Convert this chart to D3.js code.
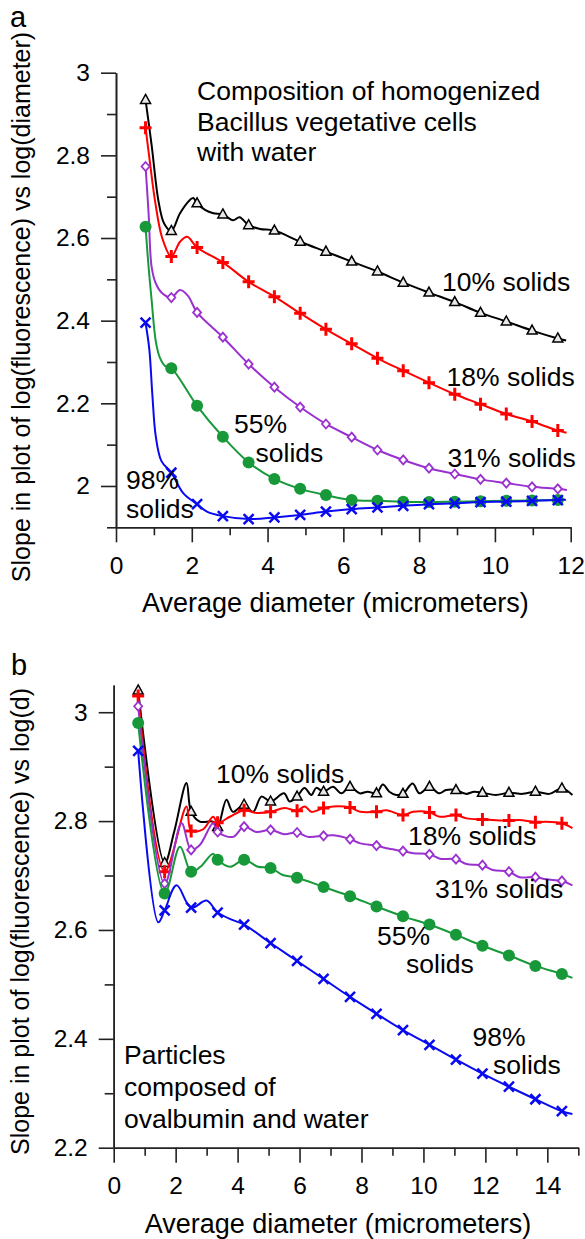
<!DOCTYPE html>
<html lang="en">
<head>
<meta charset="UTF-8" />
<title>Slope vs average diameter</title>
<style>
  body { margin: 0; background: #fff; }
  svg { display: block; font-family: "Liberation Sans", Arial, sans-serif; }
  .axis path, .axis line { stroke: #222; stroke-width: 1.6; }
  .axis text { font-size: 24.5px; fill: #000; }
  .note { font-size: 26.5px; fill: #000; }
</style>
</head>
<body>
<script src="https://d3js.org/d3.v7.min.js"></script>
<script>

// ---- panel a: Bacillus vegetative cells ----
var aX = [0.78, 1.46, 2.14, 2.82, 3.5, 4.18, 4.86, 5.54, 6.22, 6.9, 7.58, 8.26, 8.94, 9.62, 10.3, 10.98, 11.66];
var aY10 = [2.934, 2.617, 2.684, 2.657, 2.631, 2.618, 2.591, 2.567, 2.543, 2.519, 2.492, 2.468, 2.445, 2.419, 2.398, 2.376, 2.357];
var aY18 = [2.867, 2.555, 2.577, 2.541, 2.494, 2.458, 2.418, 2.379, 2.344, 2.309, 2.279, 2.25, 2.222, 2.198, 2.174, 2.156, 2.134];
var aY31 = [2.773, 2.456, 2.42, 2.36, 2.295, 2.239, 2.191, 2.15, 2.118, 2.087, 2.063, 2.043, 2.029, 2.016, 2.007, 1.998, 1.993];
var aY55 = [2.627, 2.285, 2.194, 2.119, 2.057, 2.017, 1.993, 1.978, 1.966, 1.964, 1.962, 1.961, 1.962, 1.963, 1.964, 1.965, 1.966];
var aY98 = [2.395, 2.032, 1.956, 1.927, 1.920, 1.924, 1.930, 1.938, 1.944, 1.948, 1.952, 1.956, 1.958, 1.961, 1.962, 1.964, 1.966];
// curve points between markers
var aLine10 = [[0.94, 2.825], [1.12, 2.69], [1.27, 2.635], [1.69, 2.66], [1.95, 2.692], [2.04, 2.697], [2.35, 2.668], [2.57, 2.66], [3.09, 2.643], [3.26, 2.65], [3.8, 2.622], [11.88, 2.352]];
var aLine18 = [[0.9, 2.78], [1.03, 2.69], [1.22, 2.6], [1.69, 2.591], [1.88, 2.603], [11.89, 2.129]];
var aLine31 = [[0.86, 2.66], [0.94, 2.53], [1.05, 2.49], [1.2, 2.468], [1.69, 2.474], [1.9, 2.46], [11.9, 1.99]];
var aLine55 = [[0.86, 2.53], [0.94, 2.45], [1.05, 2.35], [1.16, 2.31], [1.3, 2.29], [11.88, 1.966]];
var aLine98 = [[0.88, 2.33], [0.96, 2.22], [1.05, 2.12], [1.2, 2.06], [1.78, 1.982], [2.4, 1.938], [11.86, 1.967]];

// ---- panel b: ovalbumin particles ----
var bX = [0.79, 1.645, 2.5, 3.355, 4.21, 5.065, 5.92, 6.775, 7.63, 8.485, 9.34, 10.195, 11.05, 11.905, 12.76, 13.615, 14.47];
var bY10 = [3.04, 2.723, 2.817, 2.789, 2.83, 2.836, 2.845, 2.854, 2.863, 2.851, 2.85, 2.863, 2.857, 2.852, 2.852, 2.854, 2.86];
var bY18 = [3.03, 2.707, 2.782, 2.797, 2.82, 2.817, 2.819, 2.824, 2.825, 2.817, 2.811, 2.816, 2.811, 2.803, 2.801, 2.798, 2.796];
var bY31 = [3.011, 2.685, 2.747, 2.78, 2.79, 2.784, 2.779, 2.773, 2.767, 2.755, 2.745, 2.739, 2.73, 2.719, 2.707, 2.697, 2.69];
var bY55 = [2.98, 2.667, 2.707, 2.729, 2.729, 2.714, 2.696, 2.679, 2.662, 2.643, 2.625, 2.61, 2.591, 2.571, 2.553, 2.534, 2.519];
var bY98 = [2.929, 2.636, 2.641, 2.632, 2.61, 2.576, 2.543, 2.51, 2.477, 2.446, 2.416, 2.389, 2.362, 2.336, 2.312, 2.289, 2.267];
var bLine10 = [[1.95, 2.78], [2.35, 2.87], [2.78, 2.799], [3.21, 2.799], [3.64, 2.839], [3.85, 2.817], [4.5, 2.817], [4.77, 2.845], [5.5, 2.851], [5.68, 2.836], [6.16, 2.861], [6.38, 2.848], [6.54, 2.861], [7.08, 2.863], [7.35, 2.851], [7.94, 2.851], [8.2, 2.854], [8.69, 2.867], [8.9, 2.854], [9.12, 2.848], [9.65, 2.869], [9.87, 2.851], [10.51, 2.851], [10.73, 2.857], [11.37, 2.85], [11.64, 2.854], [12.34, 2.848], [13.2, 2.85], [14.06, 2.85], [14.81, 2.848]];
var bLine18 = [[2.35, 2.827], [2.89, 2.785], [3.21, 2.808], [3.75, 2.808], [4.6, 2.815], [5.52, 2.824], [6.17, 2.827], [6.38, 2.817], [7.1, 2.827], [7.96, 2.817], [8.81, 2.82], [9.67, 2.817], [10.53, 2.808], [11.39, 2.805], [12.24, 2.802], [13.1, 2.802], [13.96, 2.799], [14.81, 2.787]];
var bLine31 = [[2.19, 2.796], [2.78, 2.756], [3.21, 2.796], [3.85, 2.771], [4.6, 2.78], [5.5, 2.776], [6.27, 2.771], [7.1, 2.774], [7.96, 2.759], [8.81, 2.75], [9.67, 2.741], [10.53, 2.731], [11.39, 2.721], [12.24, 2.71], [13.1, 2.697], [13.96, 2.693], [14.81, 2.682]];
var bLine55 = [[2.14, 2.753], [2.8, 2.716], [3.21, 2.74], [3.75, 2.716], [4.66, 2.716], [5.46, 2.701], [14.81, 2.512]];
var bLine98 = [[1.44, 2.614], [2.03, 2.682], [3.0, 2.654], [3.85, 2.618], [14.81, 2.262]];

var xTicksA = [0, 2, 4, 6, 8, 10, 12];
var xMinorA = [1, 3, 5, 7, 9, 11];
var yTicksA = [2, 2.2, 2.4, 2.6, 2.8, 3];
var yMinorA = [1.9, 2.1, 2.3, 2.5, 2.7, 2.9];
var xTicksB = [0, 2, 4, 6, 8, 10, 12, 14];
var xMinorB = [1, 3, 5, 7, 9, 11, 13, 15];
var yTicksB = [2.2, 2.4, 2.6, 2.8, 3];
var yMinorB = [2.3, 2.5, 2.7, 2.9];

var colors = { s10: "#000000", s18: "#ff0000", s31: "#9a30d0", s55: "#17993a", s98: "#0a0af0" };

var svg = d3.select("body").append("svg")
  .attr("width", 585)
  .attr("height", 1239);

function merge(xs, ys, extra) {
  var pts = xs.map(function(x, i) { return [x, ys[i]]; }).concat(extra);
  return pts.sort(function(a, b) { return a[0] - b[0]; });
}

function drawMarker(g, kind, color) {
  if (kind == "tri") {
    g.append("path").attr("d", "M0,-5.5L5,3.5L-5,3.5Z")
      .attr("fill", "#e8e8e8").attr("stroke", color).attr("stroke-width", 1.5);
  } else if (kind == "plus") {
    g.append("path").attr("d", "M-6,0H6M0,-6.5V6.5")
      .attr("stroke", color).attr("stroke-width", 3);
  } else if (kind == "dia") {
    g.append("path").attr("d", "M0,-4.5L4,0L0,4.5L-4,0Z")
      .attr("fill", "#fff").attr("stroke", color).attr("stroke-width", 1.8);
  } else if (kind == "dot") {
    g.append("circle").attr("r", 6).attr("fill", color);
  } else {
    g.append("path").attr("d", "M-5,-5L5,5M-5,5L5,-5")
      .attr("stroke", color).attr("stroke-width", 2.5);
  }
}

function panel(cfg) {
  var x = d3.scaleLinear().domain(cfg.xDomain).range(cfg.xRange);
  var y = d3.scaleLinear().domain(cfg.yDomain).range(cfg.yRange);
  var g = svg.append("g");

  // axes: major and minor ticks
  g.append("g").attr("class", "axis")
    .attr("transform", "translate(0," + cfg.yRange[0] + ")")
    .call(d3.axisBottom(x).tickValues(cfg.xTicks).tickSize(15).tickPadding(14).tickSizeOuter(0));
  g.append("g").attr("class", "axis")
    .attr("transform", "translate(0," + cfg.yRange[0] + ")")
    .call(d3.axisBottom(x).tickValues(cfg.xMinor).tickSize(8).tickFormat("").tickSizeOuter(0));
  g.append("g").attr("class", "axis")
    .attr("transform", "translate(" + cfg.xRange[0] + ",0)")
    .call(d3.axisLeft(y).tickValues(cfg.yTicks).tickSize(15).tickPadding(11).tickSizeOuter(0)
      .tickFormat(function(d) { return d3.format("~g")(d); }));
  g.append("g").attr("class", "axis")
    .attr("transform", "translate(" + cfg.xRange[0] + ",0)")
    .call(d3.axisLeft(y).tickValues(cfg.yMinor).tickSize(9).tickFormat("").tickSizeOuter(0));
  g.selectAll(".axis text").attr("font-family", "Liberation Sans, Arial, sans-serif");

  var line = d3.line()
    .x(function(d) { return x(d[0]); })
    .y(function(d) { return y(d[1]); })
    .curve(d3.curveCatmullRom.alpha(0.5));

  cfg.series.forEach(function(s) {
    g.append("path")
      .attr("d", line(merge(cfg.markX, s.ys, s.extra)))
      .attr("fill", "none")
      .attr("stroke", s.color)
      .attr("stroke-width", 2);
    cfg.markX.forEach(function(mx, i) {
      var m = g.append("g").attr("transform", "translate(" + x(mx) + "," + y(s.ys[i]) + ")");
      drawMarker(m, s.marker, s.color);
    });
  });

  // titles
  g.append("text")
    .attr("x", (cfg.xRange[0] + cfg.xRange[1]) / 2 - 8)
    .attr("y", cfg.xTitleY)
    .attr("text-anchor", "middle")
    .style("font-size", "27px")
    .attr("fill", "#000")
    .text("Average diameter (micrometers)");
  g.append("text")
    .attr("transform", "translate(" + cfg.yTitleX + "," + cfg.yTitleMid + ") rotate(-90)")
    .attr("text-anchor", "middle")
    .style("font-size", "25px")
    .attr("fill", "#000")
    .text(cfg.yTitle);
  g.append("text")
    .attr("x", cfg.letter[1]).attr("y", cfg.letter[2])
    .style("font-size", "29px")
    .attr("fill", "#000")
    .text(cfg.letter[0]);

  cfg.notes.forEach(function(n) {
    g.append("text").attr("class", "note")
      .attr("x", n[1]).attr("y", n[2])
      .text(n[0]);
  });
}

panel({
  xDomain: [0, 12], xRange: [116, 570.7],
  yDomain: [1.9, 3], yRange: [527.3, 72.7],
  xTicks: xTicksA, xMinor: xMinorA, yTicks: yTicksA, yMinor: yMinorA,
  markX: aX,
  series: [
    { ys: aY10, extra: aLine10, color: colors.s10, marker: "tri" },
    { ys: aY18, extra: aLine18, color: colors.s18, marker: "plus" },
    { ys: aY31, extra: aLine31, color: colors.s31, marker: "dia" },
    { ys: aY55, extra: aLine55, color: colors.s55, marker: "dot" },
    { ys: aY98, extra: aLine98, color: colors.s98, marker: "x" }
  ],
  xTitleY: 612, yTitleX: 30, yTitleMid: 307,
  yTitle: "Slope in plot of log(fluorescence) vs log(diameter)",
  letter: ["a", 10, 27],
  notes: [
    ["Composition of homogenized", 197, 100],
    ["Bacillus vegetative cells", 197, 130.5],
    ["with water", 197, 161],
    ["10% solids", 442, 290.5],
    ["18% solids", 446.5, 386],
    ["31% solids", 447.5, 467],
    ["55%", 234, 433],
    ["solids", 255.5, 461.5],
    ["98%", 126, 489],
    ["solids", 126, 518]
  ]
});

panel({
  xDomain: [0, 15], xRange: [113.7, 578.3],
  yDomain: [2.2, 3.05], yRange: [1147.7, 685],
  xTicks: xTicksB, xMinor: xMinorB, yTicks: yTicksB, yMinor: yMinorB,
  markX: bX,
  series: [
    { ys: bY10, extra: bLine10, color: colors.s10, marker: "tri" },
    { ys: bY18, extra: bLine18, color: colors.s18, marker: "plus" },
    { ys: bY31, extra: bLine31, color: colors.s31, marker: "dia" },
    { ys: bY55, extra: bLine55, color: colors.s55, marker: "dot" },
    { ys: bY98, extra: bLine98, color: colors.s98, marker: "x" }
  ],
  xTitleY: 1233, yTitleX: 28.5, yTitleMid: 921.5,
  yTitle: "Slope in plot of log(fluorescence) vs log(d)",
  letter: ["b", 11, 675],
  notes: [
    ["10% solids", 216, 782.5],
    ["18% solids", 408, 845],
    ["31% solids", 435, 898],
    ["55%", 377, 945],
    ["solids", 406, 973],
    ["98%", 472.5, 1046],
    ["solids", 493, 1074],
    ["Particles", 124, 1064],
    ["composed of", 124, 1096],
    ["ovalbumin and water", 124, 1128]
  ]
});

</script>
</body>
</html>
